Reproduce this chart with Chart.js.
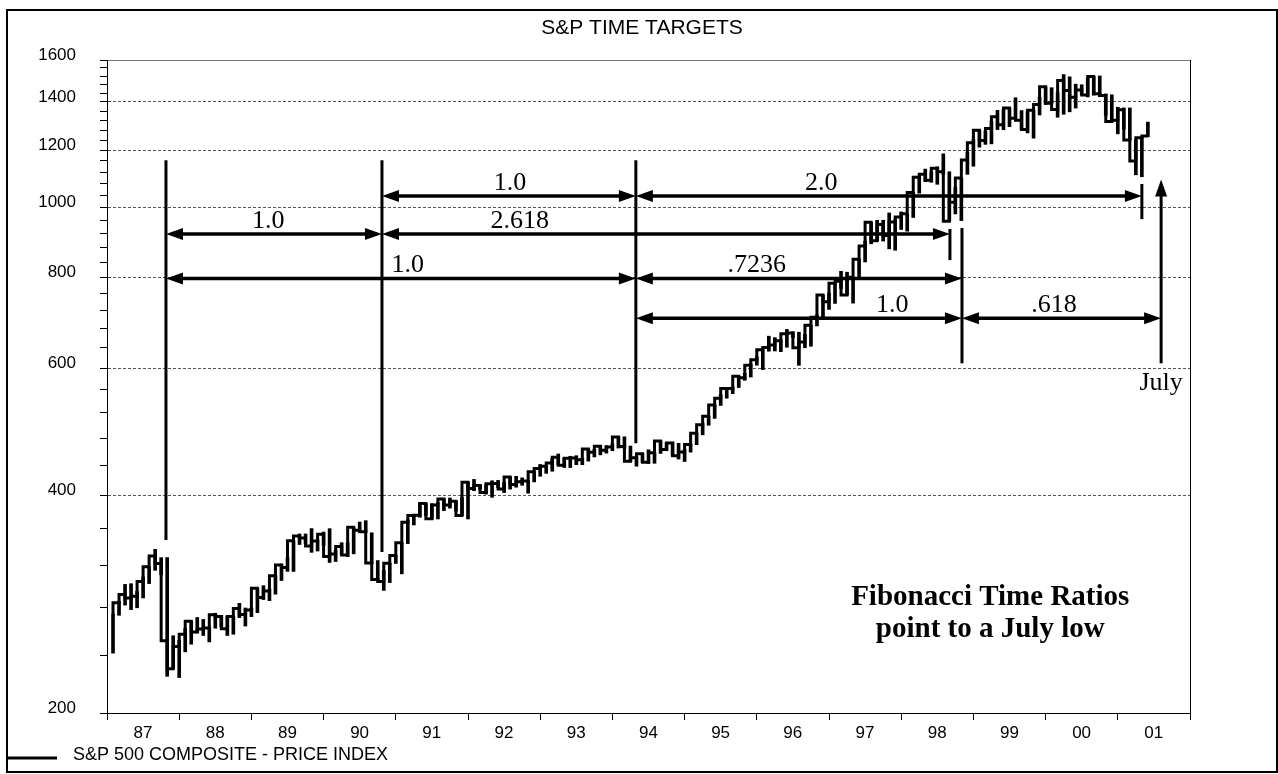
<!DOCTYPE html>
<html>
<head>
<meta charset="utf-8">
<title>S&amp;P Time Targets</title>
<script src="https://cdn.jsdelivr.net/npm/chart.js@4.4.1/dist/chart.umd.min.js"></script>
<style>
  html, body { margin: 0; padding: 0; background: #fff; }
  #frame { position: absolute; left: 6px; top: 9px; width: 1272px; height: 764px; border: 2px solid #000; box-sizing: border-box; }
  canvas { display: block; }
</style>
</head>
<body>
<div id="frame"><canvas id="chart" width="1268" height="760"></canvas></div>
<script>
// monthly S&P 500, Jan 1987 - May 2001 (range of daily closes + month close)
var lows = [
  242, 273, 282, 278, 279.6, 288.5, 302, 315, 310.5, 224.8, 230.3, 223.9,
  243, 249, 258.1, 256, 250.8, 262, 263, 256, 257, 271, 263.8, 271.8,
  275.3, 287, 286, 292, 305, 314, 313.9, 342, 343, 333.6, 335, 341,
  323, 324, 331, 329, 332, 356, 355, 321.4, 305, 295.5, 303, 322,
  311.5, 343, 364, 373, 375, 370.9, 371, 381, 384, 380.5, 375.2, 371,
  406, 407.5, 401.5, 397.5, 410, 403.5, 408, 410.5, 413, 402.7, 417.5, 425,
  429, 431.9, 441, 437, 437, 441, 441, 446, 452, 455, 457.5, 461,
  465, 464, 445.6, 438.9, 444, 442.8, 443, 457.1, 461, 453.5, 449, 445.5,
  459, 470, 485, 500, 511, 532.5, 545, 553, 563.8, 577, 583, 605.4,
  597, 633, 633.5, 632, 641, 661, 605.2, 640, 643, 686, 703, 723,
  737, 773, 757.1, 737.7, 798.5, 841, 891, 899.4, 899, 876.9, 873, 932.7,
  927.7, 969, 1047, 1086.5, 1084, 1077, 1112, 957.2, 980, 959.4, 1111.6, 1141,
  1212.2, 1223, 1225, 1282, 1281.4, 1294, 1328.7, 1281.4, 1268.4, 1247.4, 1343, 1389,
  1394.4, 1333.4, 1346, 1356.6, 1373, 1431.4, 1422.5, 1430.8, 1424, 1342.1, 1315, 1264.7,
  1283.3, 1239.9, 1110, 1103.3, 1253
];
var highs = [
  274.1, 285.5, 301.2, 301.9, 294.7, 308.4, 318.7, 336.8, 328, 328.1, 255.8, 252,
  262, 268, 271.1, 269.4, 263, 274.8, 273, 272, 272, 283.6, 279.4, 279.4,
  297.5, 300, 297.1, 309.7, 321.4, 328, 346.1, 353.7, 353.7, 359.8, 347, 355.9,
  359.7, 336, 344, 344, 361.3, 367.4, 369, 355, 325, 315, 322.3, 330.3,
  344, 370, 376.3, 390.5, 390, 389.5, 391, 395.5, 396.6, 393, 397.4, 417.1,
  420.8, 413.9, 414, 419, 419.5, 417.3, 424.3, 425, 422.9, 419, 431.4, 441.3,
  439.5, 450, 456.3, 450.9, 453, 453.8, 450.2, 463.6, 463.1, 468.6, 468.6, 470.9,
  482, 482, 468, 453, 457.3, 462.4, 458.3, 476, 473, 473.8, 472, 463,
  471, 488, 503, 514.8, 533.5, 551, 563, 565, 584.5, 590, 607.7, 621.7,
  636.1, 664, 661, 656, 678.5, 673.3, 672.4, 668, 687.4, 710.8, 757.1, 761.8,
  786.2, 816.3, 814, 801.4, 849, 898.7, 954.3, 960.3, 960.5, 983.1, 963, 986.3,
  980.3, 1049.4, 1105.7, 1130.5, 1121, 1138.5, 1186.8, 1121, 1066.1, 1098.7, 1192.3, 1241.8,
  1279.7, 1276, 1316.6, 1362.8, 1367.6, 1372.8, 1418.8, 1362, 1357.2, 1363, 1422, 1469.3,
  1465, 1441.7, 1527.5, 1516.4, 1481.5, 1478.7, 1510, 1517.7, 1520.8, 1436.3, 1432.2, 1376.5,
  1373.7, 1373.4, 1241.2, 1253, 1313
];
var closes = [
  274.08, 284.20, 291.70, 288.36, 290.10, 304.00, 318.66, 329.80, 321.83, 251.79, 230.30, 247.08,
  257.07, 267.82, 258.89, 261.33, 262.16, 273.50, 272.02, 261.52, 271.91, 278.97, 273.70, 277.72,
  297.47, 288.86, 294.87, 309.64, 320.52, 317.98, 346.08, 351.45, 349.15, 340.36, 345.99, 353.40,
  329.08, 331.89, 339.94, 330.80, 361.23, 358.02, 356.15, 322.56, 306.05, 304.00, 322.22, 330.22,
  343.93, 367.07, 375.22, 375.35, 389.83, 371.16, 387.81, 395.43, 387.86, 392.46, 375.22, 417.09,
  408.79, 412.70, 403.69, 414.95, 415.35, 408.14, 424.21, 414.03, 417.80, 418.68, 431.35, 435.71,
  438.78, 443.38, 451.67, 440.19, 450.19, 450.53, 448.13, 463.56, 458.93, 467.83, 461.79, 466.45,
  481.61, 467.14, 445.77, 450.91, 456.50, 444.27, 458.26, 475.49, 462.69, 472.35, 453.69, 459.27,
  470.42, 487.39, 500.71, 514.71, 533.40, 544.75, 562.06, 561.88, 584.41, 581.50, 605.37, 615.93,
  636.02, 640.43, 645.50, 654.17, 669.12, 670.63, 639.95, 651.99, 687.31, 705.27, 757.02, 740.74,
  786.16, 790.82, 757.12, 801.34, 848.28, 885.14, 954.29, 899.47, 947.28, 914.62, 955.40, 970.43,
  980.28, 1049.34, 1101.75, 1111.75, 1090.82, 1133.84, 1120.67, 957.28, 1017.01, 1098.67, 1163.63, 1229.23,
  1279.64, 1238.33, 1286.37, 1335.18, 1301.84, 1372.71, 1328.72, 1320.41, 1282.71, 1362.93, 1388.91, 1469.25,
  1394.46, 1366.42, 1498.58, 1452.43, 1420.60, 1454.60, 1430.83, 1517.68, 1436.51, 1429.40, 1314.95, 1320.28,
  1366.01, 1239.94, 1160.33, 1249.46, 1255.82
];

var yearLabels = ["87", "88", "89", "90", "91", "92", "93", "94", "95", "96", "97", "98", "99", "00", "01"];
var yearStarts = [0, 12, 24, 36, 48, 60, 72, 84, 96, 108, 120, 132, 144, 156, 168, 180];
var priceLabels = [200, 400, 600, 800, 1000, 1200, 1400, 1600];
var gridLevels = [400, 600, 800, 1000, 1200, 1400];

// time markers: [month, from price, to price]
var markerLines = [
  [9.8, 347, 1163],
  [45.7, 334, 1163],
  [87.9, 472, 1163],
  [140.1, 846, 934],
  [142.1, 609, 937],
  [172.0, 964, 1078]
];
// ratio arrows: [from month, to month, price level]
var ratioArrows = [
  [45.7, 87.9, 1038], [87.9, 172.0, 1038],
  [9.8, 45.7, 919], [45.7, 140.1, 919],
  [9.8, 87.9, 798], [87.9, 142.1, 798],
  [87.9, 142.1, 703], [142.1, 175.2, 703]
];
var ratioLabels = ["1.0", "2.0", "1.0", "2.618", "1.0", ".7236", "1.0", ".618"];
var ratioLabelMonths = [67.0, 118.7, 26.8, 68.6, 50.0, 108.0, 130.5, 157.4];
var julyArrow = [175.2, 609, 1094];
var julyLabel = [175.2, 572];
var noteLines = ["Fibonacci Time Ratios", "point to a July low"];
var noteAnchor = [146.8, 289, 261];

var sans = "Arial, 'Liberation Sans', sans-serif";
var serif = "'Times New Roman', 'Liberation Serif', serif";

function arrowHead(ctx, x, y, dx, dy) {
  // tip at (x, y), pointing along (dx, dy)
  var len = 17, half = 6;
  ctx.beginPath();
  ctx.moveTo(x, y);
  ctx.lineTo(x - dx * len - dy * half, y - dy * len - dx * half);
  ctx.lineTo(x - dx * len + dy * half, y - dy * len + dx * half);
  ctx.closePath();
  ctx.fill();
}

var fibPlugin = {
  id: "fibonacci",
  afterDatasetsDraw: function(chart) {
    var ctx = chart.ctx;
    var xs = chart.scales.x, ys = chart.scales.y;
    var px = function(m) { return xs.getPixelForValue(m); };
    var py = function(v) { return ys.getPixelForValue(v); };
    ctx.save();
    ctx.strokeStyle = "#000";
    ctx.fillStyle = "#000";
    ctx.lineWidth = 3;
    markerLines.forEach(function(l) {
      ctx.beginPath();
      ctx.moveTo(px(l[0]), py(l[1]));
      ctx.lineTo(px(l[0]), py(l[2]));
      ctx.stroke();
    });

    ctx.font = "26px " + serif;
    ctx.textAlign = "center";
    ctx.textBaseline = "middle";
    ratioArrows.forEach(function(a, i) {
      var x1 = px(a[0]), x2 = px(a[1]), y = py(a[2]);
      ctx.lineWidth = 3.5;
      ctx.beginPath();
      ctx.moveTo(x1 + 8, y);
      ctx.lineTo(x2 - 8, y);
      ctx.stroke();
      arrowHead(ctx, x1, y, -1, 0);
      arrowHead(ctx, x2, y, 1, 0);
      ctx.fillText(ratioLabels[i], px(ratioLabelMonths[i]), y - 13);
    });

    // july arrow
    var jx = px(julyArrow[0]);
    ctx.lineWidth = 3;
    ctx.beginPath();
    ctx.moveTo(jx, py(julyArrow[1]));
    ctx.lineTo(jx, py(julyArrow[2]) + 10);
    ctx.stroke();
    arrowHead(ctx, jx, py(julyArrow[2]), 0, -1);
    ctx.fillText("July", px(julyLabel[0]), py(julyLabel[1]));

    ctx.font = "bold 29px " + serif;
    ctx.fillText(noteLines[0], px(noteAnchor[0]), py(noteAnchor[1]));
    ctx.fillText(noteLines[1], px(noteAnchor[0]), py(noteAnchor[2]));
    ctx.restore();
  },
  afterDraw: function(chart) {
    // legend line + label at the bottom left
    var ctx = chart.ctx;
    var y = chart.height - 13;
    ctx.save();
    ctx.strokeStyle = "#000";
    ctx.lineWidth = 3;
    ctx.beginPath();
    ctx.moveTo(0, y);
    ctx.lineTo(49, y);
    ctx.stroke();
    ctx.fillStyle = "#000";
    ctx.font = "18px " + sans;
    ctx.textBaseline = "middle";
    ctx.textAlign = "left";
    ctx.fillText(chart.data.datasets[1].label, 65, y - 3);
    ctx.restore();
  }
};

var rangeData = [], closeData = [];
for (var i = 0; i < closes.length; i++) {
  rangeData.push({x: i + 1, y: [lows[i], highs[i]]});
  closeData.push({x: i + 1, y: closes[i]});
}

new Chart(document.getElementById("chart"), {
  type: "bar",
  data: {
    datasets: [{
      type: "bar",
      label: "range",
      data: rangeData,
      backgroundColor: "#000",
      barThickness: 3,
      xAxisID: "x",
      yAxisID: "y"
    }, {
      type: "line",
      label: "S&P 500 COMPOSITE - PRICE INDEX",
      data: closeData,
      stepped: "after",
      borderColor: "#000",
      borderWidth: 3,
      borderJoinStyle: "miter",
      pointRadius: 0,
      xAxisID: "x",
      yAxisID: "y"
    }]
  },
  options: {
    responsive: false,
    animation: false,
    devicePixelRatio: 1,
    events: [],
    layout: {padding: 0},
    plugins: {
      legend: {display: false},
      tooltip: {enabled: false},
      title: {
        display: true,
        text: "S&P TIME TARGETS",
        color: "#000",
        font: {family: sans, size: 21, weight: "normal"},
        padding: {top: 4.6, bottom: 19.2}
      }
    },
    scales: {
      x: {
        type: "linear",
        position: "bottom",
        min: 0,
        max: 180,
        offset: false,
        afterBuildTicks: function(scale) {
          scale.ticks = yearStarts.map(function(v) { return {value: v}; });
        },
        afterFit: function(scale) { scale.height = 58; },
        ticks: {
          autoSkip: false,
          maxRotation: 0,
          labelOffset: 36,
          padding: 3,
          color: "#000",
          font: {family: sans, size: 17},
          callback: function(v, idx) { return yearLabels[idx] || ""; }
        },
        grid: {offset: false, drawOnChartArea: false, drawTicks: true, tickLength: 7, tickColor: "#000"},
        border: {color: "#000", width: 1}
      },
      xTop: {
        axis: "x",
        type: "linear",
        position: "top",
        min: 0,
        max: 180,
        offset: false,
        afterFit: function(scale) { scale.height = 0; },
        ticks: {display: false},
        grid: {display: false},
        border: {color: "#777", width: 1}
      },
      y: {
        type: "logarithmic",
        position: "left",
        min: 200,
        max: 1600,
        afterBuildTicks: function(scale) {
          var t = [];
          for (var v = 200; v <= 1600; v += 40) t.push({value: v});
          scale.ticks = t;
        },
        afterFit: function(scale) { scale.width = 99; },
        ticks: {
          autoSkip: false,
          padding: 24,
          labelOffset: -5,
          color: "#000",
          font: {family: sans, size: 17},
          callback: function(v) { return priceLabels.indexOf(v) >= 0 ? String(v) : ""; }
        },
        grid: {
          color: function(c) {
            return c.tick && gridLevels.indexOf(c.tick.value) >= 0 ? "#555" : "rgba(0,0,0,0)";
          },
          lineWidth: 1,
          drawTicks: true,
          tickLength: 7,
          tickColor: "#000"
        },
        border: {color: "#000", width: 1, dash: [3, 2]}
      },
      yRight: {
        axis: "y",
        type: "logarithmic",
        position: "right",
        min: 200,
        max: 1600,
        afterFit: function(scale) { scale.width = 86; },
        ticks: {display: false},
        grid: {display: false},
        border: {color: "#000", width: 1}
      }
    }
  },
  plugins: [fibPlugin]
});
</script>
</body>
</html>
